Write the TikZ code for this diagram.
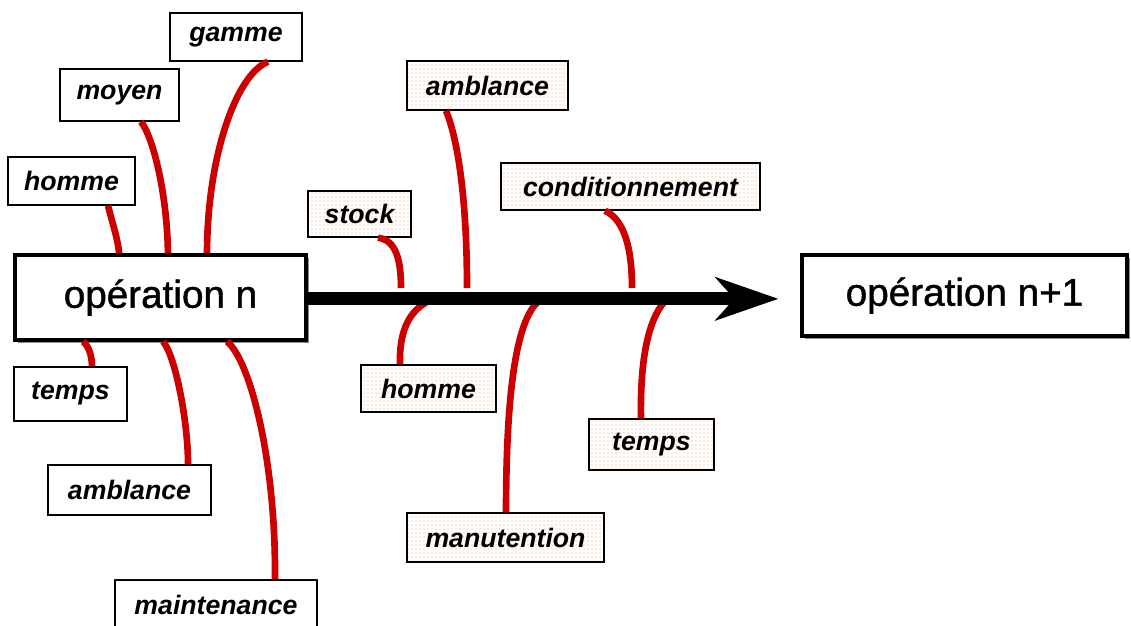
\documentclass[tikz,border=0pt]{standalone}
\usepackage{fontspec}
\setmainfont{Liberation Sans}
\usetikzlibrary{arrows.meta,patterns,shadows}
\definecolor{fishred}{HTML}{CC0000}
\definecolor{dotorange}{HTML}{F2A35E}
\begin{document}
\begin{tikzpicture}[x=0.75pt,y=-0.75pt,
  opbox/.style={draw=black, line width=2.3pt, fill=white, inner sep=0pt,
    font=\fontsize{29}{34}\selectfont\addfontfeatures{FakeBold=1.2},
    drop shadow={shadow xshift=2.5pt, shadow yshift=-2.5pt, fill=black!45, opacity=1}},
  cause/.style={draw=black, line width=1.1pt, fill=white, inner sep=0pt,
    font=\fontsize{20}{24}\selectfont\bfseries\itshape},
  dotted cause/.style={cause, preaction={fill=white}, pattern=dots, pattern color=dotorange},
  bone/.style={draw=fishred, line width=5pt},
  spine/.style={draw=black, line width=9.75pt,
    -{Stealth[length=47pt, width=32pt, inset=14pt]}}
]
\useasboundingbox (0,0) rectangle (1131,625);

% the two operations
\node[opbox, minimum width=218.25pt, minimum height=63.75pt] (opn) at (160.5,297.5) {\raisebox{-2pt}{opération n}};
\node[opbox, minimum width=243.75pt, minimum height=60.75pt] (opn1) at (964.5,295.5) {\raisebox{-1.5pt}{opération n+1}};

% causes of operation n
\node[cause, minimum width=99pt,    minimum height=36pt]   (gamme)  at (236,37)    {gamme};
\node[cause, minimum width=89.25pt, minimum height=39pt]   (moyen)  at (119.5,95)  {moyen};
\node[cause, minimum width=95.25pt, minimum height=36pt]   (hommeL) at (71.5,181)  {homme};
\node[cause, minimum width=84.75pt, minimum height=40.5pt] (tempsL) at (70.5,394)  {temps};
\node[cause, minimum width=122.25pt,minimum height=37.5pt] (ambL)   at (129.5,490) {amblance};
\node[cause, minimum width=151.5pt, minimum height=37.5pt] (maint)  at (216,605)   {maintenance};
\draw[draw=blue!40!black, line width=1.1pt] (maint.north west) -- (maint.north east);

% causes along the transfer
\node[dotted cause, minimum width=77.25pt, minimum height=34.5pt]  (stock)  at (359.5,214)  {stock};
\node[dotted cause, minimum width=120.75pt,minimum height=36.75pt] (ambR)   at (487.5,85.5) {amblance};
\node[dotted cause, minimum width=194.25pt,minimum height=35.25pt] (cond)   at (630.5,186.5){conditionnement};
\node[dotted cause, minimum width=101.25pt,minimum height=35.25pt] (hommeR) at (428.5,388.5){homme};
\node[dotted cause, minimum width=93.75pt, minimum height=38.25pt] (tempsR) at (651.5,444.5){temps};
\node[dotted cause, minimum width=147.75pt,minimum height=36.75pt] (manut)  at (505.5,537.5){manutention};

% points where the bones meet the spine
\coordinate (sStock) at (401,288);
\coordinate (sAmb)   at (467,288);
\coordinate (sCond)  at (632,288);
\coordinate (sHom)   at (429,301);
\coordinate (sMan)   at (539,301);
\coordinate (sTmp)   at (665,301);

% bones of operation n
\draw[bone] ([xshift=27.4pt]hommeL.south) .. controls (113,225) and (118,240) .. ([xshift=-31pt]opn.north);
\draw[bone] ([xshift=16.1pt]moyen.south) .. controls (152,135) and (167,190) .. ([xshift=5.6pt]opn.north);
\draw[bone] ([xshift=24pt]gamme.south) .. controls (235,75) and (207,160) .. ([xshift=34.9pt]opn.north);
\draw[bone] ([xshift=-58.1pt]opn.south) .. controls (88,345) and (92,355) .. ([xshift=16.1pt]tempsL.north);
\draw[bone] ([xshift=1.9pt]opn.south) .. controls (175,355) and (188,420) .. ([xshift=43.9pt]ambL.north);
\draw[bone] ([xshift=49.9pt]opn.south) .. controls (250,360) and (276,460) .. ([xshift=44.25pt]maint.north);

% bones along the spine
\draw[bone] ([xshift=13.9pt]stock.south) .. controls (396,240) and (401,260) .. (sStock);
\draw[bone] ([xshift=-31.1pt]ambR.south) .. controls (458,140) and (467,200) .. (sAmb);
\draw[bone] ([xshift=-19.1pt]cond.south) .. controls (625,220) and (632,250) .. (sCond);
\draw[bone] ([xshift=-21.4pt]hommeR.north) .. controls (399,330) and (410,310) .. (sHom);
\draw[bone] ([xshift=0.4pt]manut.north) .. controls (506,400) and (515,320) .. (sMan);
\draw[bone] ([xshift=-7.9pt]tempsR.north) .. controls (640,360) and (648,320) .. (sTmp);

% spine
\draw[spine, shorten >=16.5pt] ([yshift=-1pt]opn.east) -- ([yshift=-1pt]opn1.west |- opn.east);
\end{tikzpicture}
\end{document}
